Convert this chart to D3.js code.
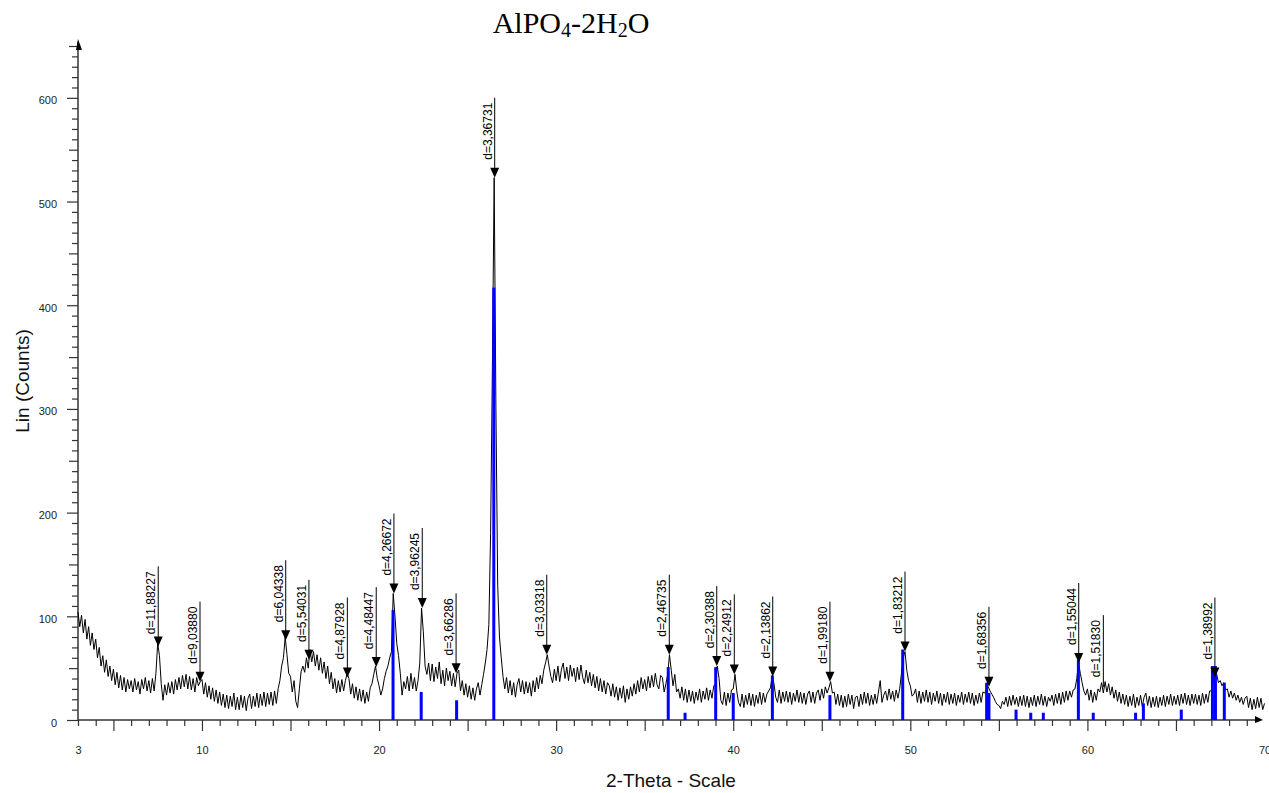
<!DOCTYPE html>
<html>
<head>
<meta charset="utf-8">
<script src="https://cdn.jsdelivr.net/npm/d3@7"></script>
<style>
  body { margin: 0; background: #fff; }
  svg { display: block; }
</style>
</head>
<body>
<script>
var W = 1269, H = 793;

// scan: 2-theta start / step, counts every 0.1 deg
var start = 3, step = 0.1;
var counts = [
  104, 90, 101, 84, 97, 78, 90, 72, 84, 68,   // 3
  78, 60, 70, 52, 62, 46, 58, 42, 52, 38,     // 4
  49, 34, 46, 31, 43, 29, 41, 27, 39, 30,     // 5
  38, 27, 40, 29, 37, 25, 39, 30, 41, 28,     // 6
  38, 26, 40, 28, 45, 74, 62, 35, 19, 34,     // 7
  24, 36, 26, 37, 25, 39, 29, 41, 30, 43,     // 8
  32, 44, 30, 42, 29, 40, 27, 41, 33, 37,     // 9
  39, 25, 36, 22, 33, 20, 31, 18, 29, 16,     // 10
  27, 14, 25, 12, 24, 11, 23, 13, 26, 10,     // 11
  22, 10, 24, 12, 23, 9, 21, 25, 11, 23,      // 12
  13, 26, 12, 25, 14, 27, 13, 26, 15, 27,     // 13
  14, 28, 16, 30, 38, 52, 60, 80, 63, 45,     // 14
  42, 27, 38, 18, 12, 30, 47, 52, 46, 60,     // 15
  50, 68, 56, 66, 52, 63, 48, 60, 45, 56,     // 16
  40, 52, 35, 46, 30, 40, 26, 38, 27, 39,     // 17
  28, 38, 45, 40, 25, 35, 21, 32, 19, 30,     // 18
  18, 29, 16, 27, 18, 31, 35, 44, 52, 40,     // 19
  33, 24, 30, 40, 47, 52, 60, 66, 122, 100,   // 20
  74, 62, 45, 24, 37, 30, 42, 28, 45, 30,     // 21
  41, 28, 38, 55, 108, 85, 52, 44, 55, 38,    // 22
  54, 37, 51, 40, 56, 35, 48, 33, 50, 38,     // 23
  47, 33, 45, 32, 45, 48, 28, 38, 24, 35,     // 24
  22, 33, 20, 31, 19, 30, 36, 24, 34, 44,     // 25
  55, 68, 92, 180, 340, 523, 300, 130, 80, 60, // 26
  42, 30, 41, 26, 38, 24, 36, 22, 34, 40,     // 27
  27, 38, 25, 37, 26, 36, 23, 38, 27, 41,     // 28
  30, 43, 35, 48, 55, 63, 52, 42, 36, 49,     // 29
  38, 52, 37, 49, 55, 40, 51, 38, 53, 42,     // 30
  50, 37, 51, 39, 53, 41, 35, 48, 36, 46,     // 31
  33, 44, 31, 42, 28, 40, 27, 38, 25, 36,     // 32
  33, 23, 35, 22, 32, 19, 31, 21, 33, 17,     // 33
  30, 20, 32, 23, 35, 25, 38, 27, 41, 30,     // 34
  39, 28, 42, 31, 43, 32, 45, 34, 30, 43,     // 35
  41, 27, 35, 44, 63, 48, 33, 44, 27, 30,     // 36
  21, 32, 19, 30, 17, 29, 18, 28, 16, 27,     // 37
  19, 30, 17, 28, 20, 31, 19, 29, 21, 33,     // 38
  35, 52, 40, 19, 15, 27, 14, 26, 17, 29,     // 39
  30, 44, 28, 17, 13, 25, 12, 24, 15, 26,     // 40
  14, 25, 13, 24, 16, 27, 15, 26, 17, 25,     // 41
  28, 31, 42, 35, 22, 17, 29, 16, 27, 18,     // 42
  28, 17, 27, 15, 26, 18, 29, 17, 27, 16,     // 43
  26, 15, 25, 28, 17, 27, 16, 26, 29, 19,     // 44
  30, 21, 32, 26, 31, 37, 26, 27, 15, 25,     // 45
  14, 24, 12, 23, 13, 25, 15, 24, 11, 22,     // 46
  23, 13, 25, 15, 27, 16, 26, 14, 24, 15,     // 47
  25, 16, 27, 38, 17, 24, 28, 19, 30, 20,     // 48
  28, 18, 29, 21, 30, 45, 60, 66, 48, 38,     // 49
  33, 23, 25, 30, 17, 28, 16, 27, 18, 29,     // 50
  17, 27, 15, 26, 18, 28, 16, 26, 14, 25,     // 51
  17, 27, 15, 25, 16, 26, 14, 24, 17, 27,     // 52
  15, 25, 17, 27, 16, 26, 14, 24, 16, 26,     // 53
  17, 27, 26, 30, 32, 28, 25, 22, 18, 15,     // 54
  14, 11, 18, 15, 22, 13, 23, 14, 24, 15,     // 55
  22, 13, 23, 14, 24, 13, 23, 12, 22, 14,     // 56
  24, 13, 23, 15, 25, 14, 23, 13, 22, 18,     // 57
  24, 14, 25, 16, 26, 15, 27, 17, 28, 19,     // 58
  28, 22, 29, 30, 40, 55, 45, 36, 28, 24,     // 59
  30, 19, 29, 17, 27, 19, 30, 27, 36, 26,     // 60
  37, 27, 35, 24, 32, 21, 29, 18, 27, 16,     // 61
  25, 15, 24, 13, 23, 14, 25, 12, 22, 14,     // 62
  24, 13, 22, 26, 14, 23, 12, 22, 13, 23,     // 63
  12, 22, 14, 24, 13, 23, 15, 25, 14, 23,     // 64
  15, 24, 14, 25, 16, 26, 15, 24, 14, 25,     // 65
  16, 25, 15, 24, 14, 26, 16, 25, 17, 28,     // 66
  28, 35, 48, 44, 36, 38, 33, 36, 29, 30,     // 67
  22, 28, 21, 26, 19, 24, 17, 22, 15, 21,     // 68
  23, 12, 21, 10, 20, 11, 22, 12, 21, 10,     // 69
  16                                           // 70
];

// peak search labels
var peakPos = [7.53, 9.89, 14.73, 16.04, 18.21, 19.84, 20.84, 22.44, 24.35, 26.53, 29.47,
               36.39, 39.07, 40.06, 42.23, 45.46, 49.70, 54.44, 59.51, 60.90, 67.20];
var peakCounts = [71, 37, 77, 58, 41, 51, 122, 108, 45, 523, 63,
                  63, 52, 44, 42, 37, 66, 32, 55, 24, 41];
var peakLabels = ["d=11,88227", "d=9,03880", "d=6,04338", "d=5,54031", "d=4,87928", "d=4,48447",
                  "d=4,26672", "d=3,96245", "d=3,66286", "d=3,36731", "d=3,03318", "d=2,46735",
                  "d=2,30388", "d=2,24912", "d=2,13862", "d=1,99180", "d=1,83212", "d=1,68356",
                  "d=1,55044", "d=1,51830", "d=1,38992"];
var peakMark = [1, 1, 1, 1, 1, 1, 1, 1, 1, 1, 1, 1, 1, 1, 1, 1, 1, 1, 1, 0, 1];

// reference pattern sticks (blue)
var refPos = [20.79, 22.38, 24.38, 26.48, 36.33, 37.28, 39.01, 40.00, 42.21, 45.46, 49.57,
              54.31, 54.44, 55.97, 56.80, 57.51, 59.49, 60.33, 62.72, 63.16, 65.30,
              67.06, 67.23, 67.73];
var refCounts = [106, 27, 19, 417, 51, 7, 51, 26, 43, 24, 68,
                 36, 26, 10, 7, 7, 58, 7, 7, 16, 10,
                 52, 52, 36];

var xLabels = [3, 10, 20, 30, 40, 50, 60, 70];
var yLabels = [0, 100, 200, 300, 400, 500, 600];

var x = d3.scaleLinear().domain([3, 70]).range([78, 1264.5]);
var y = d3.scaleLinear().domain([0, 650]).range([720, 46]);

var svg = d3.select("body").append("svg")
  .attr("width", W).attr("height", H)
  .style("font-family", "'Liberation Sans', Arial, sans-serif");

svg.append("rect").attr("width", W).attr("height", H).attr("fill", "#fff");

// title
var title = svg.append("text")
  .attr("x", 571).attr("y", 33)
  .attr("text-anchor", "middle")
  .style("font-family", "'Liberation Serif', 'Times New Roman', serif")
  .style("font-size", "30px")
  .attr("fill", "#000");
title.append("tspan").text("AlPO");
title.append("tspan").attr("dy", 4).style("font-size", "20px").text("4");
title.append("tspan").attr("dy", -4).text("-2H");
title.append("tspan").attr("dy", 4).style("font-size", "20px").text("2");
title.append("tspan").attr("dy", -4).text("O");

// axes: minor, medium and labelled ticks
function styleAxis(g) {
  g.select(".domain").remove();
  g.selectAll("line").attr("stroke", "#333").attr("stroke-width", 1.2);
  g.selectAll("text").style("font-size", "11px").attr("fill", "#222");
}

var xMinor = d3.range(3, 70).filter(function(v) { return v % 5 != 0; });
var xMid = d3.range(5, 70, 5);
svg.append("g").attr("transform", "translate(0,720)")
  .call(d3.axisBottom(x).tickValues(xMinor).tickSize(6).tickFormat(""))
  .call(styleAxis);
svg.append("g").attr("transform", "translate(0,720)")
  .call(d3.axisBottom(x).tickValues(xMid).tickSize(11).tickFormat(""))
  .call(styleAxis);
svg.append("g").attr("transform", "translate(0,720)")
  .call(d3.axisBottom(x).tickValues(xLabels).tickSize(0).tickPadding(26).tickFormat(d3.format("d")))
  .call(styleAxis);

var yMinor = d3.range(10, 660, 10).filter(function(v) { return v % 50 != 0; });
var yMid = d3.range(50, 700, 100);
svg.append("g").attr("transform", "translate(78,0)")
  .call(d3.axisLeft(y).tickValues(yMinor).tickSize(6).tickFormat(""))
  .call(styleAxis);
svg.append("g").attr("transform", "translate(78,0)")
  .call(d3.axisLeft(y).tickValues(yMid).tickSize(9).tickFormat(""))
  .call(styleAxis);
svg.append("g").attr("transform", "translate(78,0)")
  .call(d3.axisLeft(y).tickValues(yLabels).tickSize(11).tickPadding(10).tickFormat(d3.format("d")))
  .call(styleAxis)
  .selectAll("text").attr("dy", "0.55em");

// axis lines with arrows
svg.append("line").attr("x1", 78).attr("x2", 78).attr("y1", 720).attr("y2", 42)
  .attr("stroke", "#333").attr("stroke-width", 1.5);
svg.append("path").attr("d", "M76,50 L78,39 L82,50 Z").attr("fill", "#000");
svg.append("line").attr("x1", 78).attr("x2", 1258).attr("y1", 720).attr("y2", 720)
  .attr("stroke", "#333").attr("stroke-width", 1.5);
svg.append("path").attr("d", "M1255,716 L1263,720 L1255,723 Z").attr("fill", "#000");

// axis titles
svg.append("text")
  .attr("x", 671).attr("y", 787)
  .attr("text-anchor", "middle")
  .style("font-size", "19px").attr("fill", "#111")
  .text("2-Theta - Scale");
svg.append("text")
  .attr("transform", "translate(29,381) rotate(-90)")
  .attr("text-anchor", "middle")
  .style("font-size", "19px").attr("fill", "#111")
  .text("Lin (Counts)");

// measured pattern
var line = d3.line()
  .x(function(d, i) { return x(start + i * step); })
  .y(function(d) { return y(d); });
svg.append("path")
  .datum(counts)
  .attr("d", line)
  .attr("fill", "none")
  .attr("stroke", "#000")
  .attr("stroke-width", 1);

// reference sticks
svg.selectAll(".ref").data(refPos).enter()
  .append("rect").attr("class", "ref")
  .attr("x", function(d) { return x(d) - 1.5; })
  .attr("width", 3)
  .attr("y", function(d, i) { return y(refCounts[i]); })
  .attr("height", function(d, i) { return y(0) - y(refCounts[i]); })
  .attr("fill", "#0000ff");

// peak markers
var pk = svg.selectAll(".peak").data(peakPos).enter()
  .append("g").attr("class", "peak");
pk.append("line")
  .attr("x1", function(d) { return x(d); })
  .attr("x2", function(d) { return x(d); })
  .attr("y1", function(d, i) { return y(peakCounts[i]) - 80; })
  .attr("y2", function(d, i) { return y(peakCounts[i]) - 8; })
  .attr("stroke", "#000").attr("stroke-width", 1);
pk.filter(function(d, i) { return peakMark[i]; })
  .append("path")
  .attr("d", function(d) {
    var px = x(d), py = y(peakCounts[peakPos.indexOf(d)]);
    return "M" + (px - 4.5) + "," + (py - 10) + " L" + (px + 4.5) + "," + (py - 10) + " L" + px + "," + py + " Z";
  })
  .attr("fill", "#000");
pk.append("text")
  .attr("transform", function(d, i) {
    return "translate(" + (x(d) - 3) + "," + (y(peakCounts[i]) - 75) + ") rotate(-90)";
  })
  .attr("text-anchor", "end")
  .style("font-size", "12px")
  .attr("fill", "#000")
  .text(function(d, i) { return peakLabels[i]; });
</script>
</body>
</html>
